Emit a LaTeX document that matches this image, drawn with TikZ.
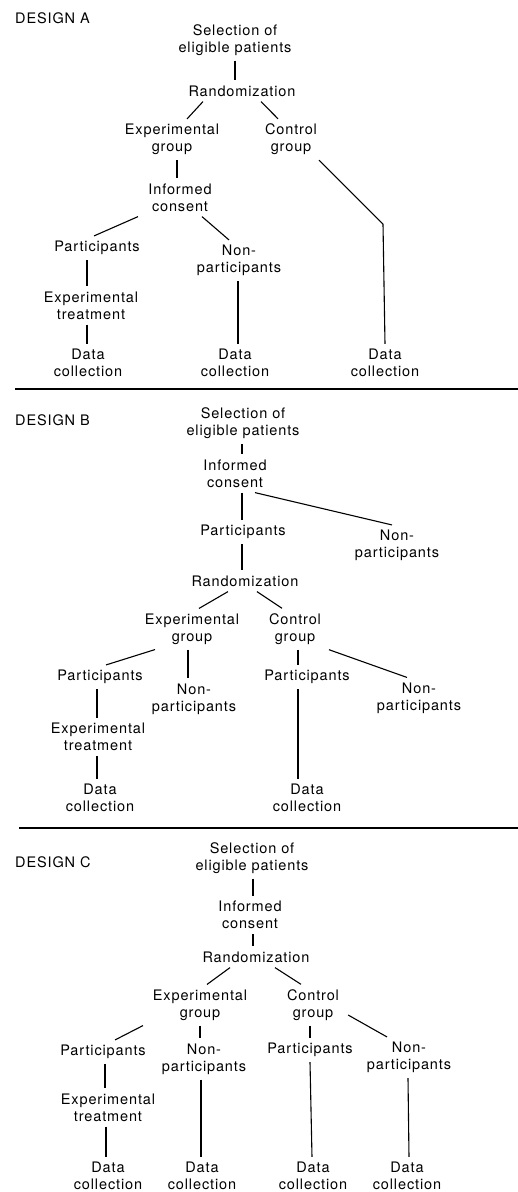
\documentclass[tikz,border=0pt]{standalone}
\usepackage{fontspec}
\setmainfont[LetterSpace=6]{TeX Gyre Heros}
\usepackage{tikz}
\usetikzlibrary{positioning}
\tikzstyle{stage} = [align=center, inner xsep=2pt, inner ysep=5pt, font=\fontsize{14.5}{17}\selectfont]
\tikzstyle{design} = [anchor=west, inner sep=0pt, font=\fontsize{14.5}{17}\selectfont]
\tikzstyle{link} = [line width=1.1pt]
\tikzstyle{rule} = [line width=1.3pt]

\begin{document}
\begin{tikzpicture}
\useasboundingbox (0,0) rectangle (518pt,-1192pt);
% design A
\node[design] (labA) at (15pt,-18pt) {DESIGN A};
\node[stage] (selA) at (235pt,-40pt)
          {Selection of\\eligible patients};
\node[stage] (randA) at (selA) [xshift=7pt,yshift=-51pt]
          {Randomization};
\node[stage] (expA) at (randA) [xshift=-70pt,yshift=-48.5pt]
          {Experimental\\group};
\node[stage] (ctrlA) at (randA) [xshift=49pt,yshift=-48.5pt]
          {Control\\group};
\node[stage] (infA) at (expA) [xshift=8pt,yshift=-58pt]
          {Informed\\consent};
\node[stage] (partA) at (infA) [xshift=-83pt,yshift=-50.5pt]
          {Participants};
\node[stage] (nonA) at (infA) [xshift=59pt,yshift=-63pt]
          {Non-\\participants};
\node[stage] (treatA) at (partA) [xshift=-6pt,yshift=-57.5pt]
          {Experimental\\treatment};
\node[stage] (dataA1) at (treatA) [xshift=-3pt,yshift=-57.5pt]
          {Data\\collection};
\node[stage] (dataA2) at (nonA) [xshift=-4pt,yshift=-102.5pt]
          {Data\\collection};
\node[stage] (dataA3) at (ctrlA) [xshift=94pt,yshift=-223.5pt]
          {Data\\collection};
\draw[link] (selA.south) -- (selA.south |- randA.north);
\draw[link] ([xshift=-39pt]randA.south) -- ([xshift=15pt]expA.north);
\draw[link] ([xshift=19pt]randA.south) -- ([xshift=-13pt]ctrlA.north);
\draw[link] ([xshift=5pt]expA.south) -- ([xshift=-3pt]infA.north);
\draw[link] ([xshift=28pt]ctrlA.south) -- ++(64pt,-64pt) -- (dataA3.north);
\draw[link] ([xshift=-42pt]infA.south) -- ([xshift=-3pt]partA.north);
\draw[link] ([xshift=22pt]infA.south) -- ([xshift=-10pt]nonA.north);
\draw[link] ([xshift=-10pt]partA.south) -- ([xshift=-4pt]treatA.north);
\draw[link] ([xshift=-4pt]treatA.south) -- ([xshift=-1pt]dataA1.north);
\draw[link] ([xshift=-1pt]nonA.south) -- ([xshift=3pt]dataA2.north);
\draw[rule] (15pt,-389pt) -- (518pt,-389pt);
% design B
\node[design] (labB) at (15pt,-420pt) {DESIGN B};
\node[stage] (selB) at (243pt,-423.5pt)
          {Selection of\\eligible patients};
\node[stage] (infB) at (selB) [xshift=-8pt,yshift=-50pt]
          {Informed\\consent};
\node[stage] (partB1) at (infB) [xshift=8pt,yshift=-58.5pt]
          {Participants};
\node[stage] (nonB1) at (infB) [xshift=162pt,yshift=-72pt]
          {Non-\\participants};
\node[stage] (randB) at (partB1) [xshift=2pt,yshift=-49pt]
          {Randomization};
\node[stage] (expB) at (randB) [xshift=-53pt,yshift=-48pt]
          {Experimental\\group};
\node[stage] (ctrlB) at (randB) [xshift=50pt,yshift=-48pt]
          {Control\\group};
\node[stage] (partB2) at (expB) [xshift=-92pt,yshift=-48pt]
          {Participants};
\node[stage] (nonB2) at (expB) [xshift=2pt,yshift=-70pt]
          {Non-\\participants};
\node[stage] (partB3) at (ctrlB) [xshift=12pt,yshift=-48pt]
          {Participants};
\node[stage] (nonB3) at (ctrlB) [xshift=124pt,yshift=-69pt]
          {Non-\\participants};
\node[stage] (treatB) at (partB2) [xshift=-2pt,yshift=-60pt]
          {Experimental\\treatment};
\node[stage] (dataB1) at (treatB) [xshift=2pt,yshift=-61pt]
          {Data\\collection};
\node[stage] (dataB2) at (partB3) [xshift=0pt,yshift=-121pt]
          {Data\\collection};
\draw[link] ([xshift=-1pt]selB.south) -- ([xshift=7pt]infB.north);
\draw[link] ([xshift=7pt]infB.south) -- ([xshift=-1pt]partB1.north);
\draw[link] ([xshift=20pt]infB.south) -- ([xshift=-5pt]nonB1.north);
\draw[link] ([xshift=-1pt]partB1.south) -- ([xshift=-3pt]randB.north);
\draw[link] ([xshift=-17pt]randB.south) -- ([xshift=7pt]expB.north);
\draw[link] ([xshift=12pt]randB.south) -- ([xshift=-13pt]ctrlB.north);
\draw[link] ([xshift=-37pt]expB.south) -- ([xshift=6pt]partB2.north);
\draw[link] ([xshift=-4pt]expB.south) -- ([xshift=-6pt]nonB2.north);
\draw[link] ([xshift=3pt]ctrlB.south) -- ([xshift=-9pt]partB3.north);
\draw[link] ([xshift=34pt]ctrlB.south) -- ([xshift=-12pt]nonB3.north);
\draw[link] ([xshift=-3pt]partB2.south) -- ([xshift=-1pt]treatB.north);
\draw[link] ([xshift=-1pt]treatB.south) -- ([xshift=-3pt]dataB1.north);
\draw[link] ([xshift=-9pt]partB3.south) -- ([xshift=-9pt]dataB2.north);
\draw[rule] (19pt,-828pt) -- (518pt,-828pt);
% design C
\node[design] (labC) at (15pt,-862pt) {DESIGN C};
\node[stage] (selC) at (252pt,-858pt)
          {Selection of\\eligible patients};
\node[stage] (infC) at (selC) [xshift=-2pt,yshift=-57pt]
          {Informed\\consent};
\node[stage] (randC) at (infC) [xshift=6pt,yshift=-42pt]
          {Randomization};
\node[stage] (expC) at (randC) [xshift=-56pt,yshift=-48pt]
          {Experimental\\group};
\node[stage] (ctrlC) at (randC) [xshift=57pt,yshift=-48pt]
          {Control\\group};
\node[stage] (partC1) at (expC) [xshift=-97pt,yshift=-47pt]
          {Participants};
\node[stage] (nonC1) at (expC) [xshift=4pt,yshift=-54pt]
          {Non-\\participants};
\node[stage] (partC2) at (ctrlC) [xshift=-3pt,yshift=-45pt]
          {Participants};
\node[stage] (nonC2) at (ctrlC) [xshift=96pt,yshift=-52.5pt]
          {Non-\\participants};
\node[stage] (treatC) at (partC1) [xshift=5pt,yshift=-55.5pt]
          {Experimental\\treatment};
\node[stage] (dataC1) at (treatC) [xshift=0pt,yshift=-68.5pt]
          {Data\\collection};
\node[stage] (dataC2) at (nonC1) [xshift=-2pt,yshift=-117pt]
          {Data\\collection};
\node[stage] (dataC3) at (partC2) [xshift=3pt,yshift=-126pt]
          {Data\\collection};
\node[stage] (dataC4) at (nonC2) [xshift=-2pt,yshift=-118.5pt]
          {Data\\collection};
\draw[link] ([xshift=1pt]selC.south) -- ([xshift=3pt]infC.north);
\draw[link] ([xshift=3pt]infC.south) -- ([xshift=-3pt]randC.north);
\draw[link] ([xshift=-26pt]randC.south) -- ([xshift=7pt]expC.north);
\draw[link] ([xshift=19pt]randC.south) -- ([xshift=-12pt]ctrlC.north);
\draw[link] ([xshift=-57pt]expC.south) -- ([xshift=12pt]partC1.north);
\draw[link] (expC.south) -- ([xshift=-4pt]nonC1.north);
\draw[link] ([xshift=-3pt]ctrlC.south) -- (partC2.north);
\draw[link] ([xshift=7pt,yshift=-10pt]ctrlC.east) -- ([xshift=-22pt]nonC2.north);
\draw[link] ([xshift=2pt]partC1.south) -- ([xshift=-3pt]treatC.north);
\draw[link] ([xshift=-2pt]treatC.south) -- ([xshift=-2pt]dataC1.north);
\draw[link] ([xshift=-3pt]nonC1.south) -- ([xshift=-1pt]dataC2.north);
\draw[link] (partC2.south) -- ([xshift=-1pt]dataC3.north);
\draw[link] ([xshift=-1pt]nonC2.south) -- ([xshift=2pt]dataC4.north);
\end{tikzpicture}
\end{document}
